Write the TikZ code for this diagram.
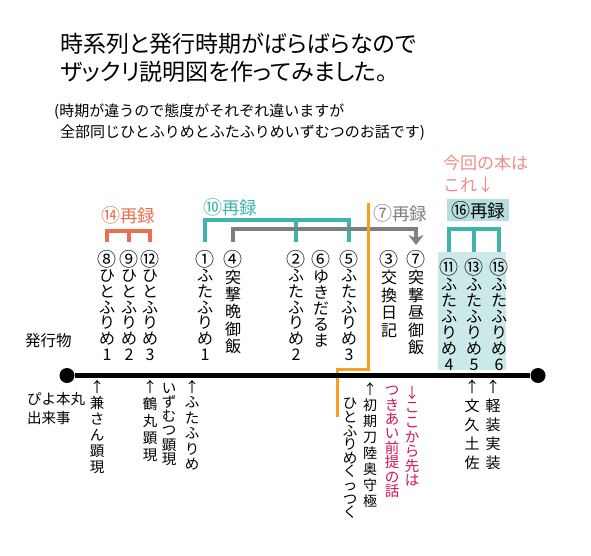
\documentclass[tikz,border=0pt]{standalone}
\usepackage{fontspec}
\setmainfont{Noto Sans CJK JP}
\newfontfamily\propfont[RawFeature={+palt}]{Noto Sans CJK JP}
\usetikzlibrary{arrows.meta, calc}

\definecolor{recred}{HTML}{E8704E}
\definecolor{recteal}{HTML}{3DB5AC}
\definecolor{recgray}{HTML}{7F7F7F}
\definecolor{lineorange}{HTML}{F5A11F}
\definecolor{boxlabel}{HTML}{B5DFDE}
\definecolor{boxcols}{HTML}{CCE9E9}
\definecolor{notepink}{HTML}{F08C8C}
\definecolor{notered}{HTML}{D4145A}

% Bigger circled numbers
\newcommand{\cnum}[1]{{\fontsize{19}{19}\selectfont #1}}

\begin{document}
\begin{tikzpicture}[x=1pt, y=-1pt,
    % Define the style for the book columns above the timeline
    ucol/.style={anchor=north, align=center, inner sep=0pt, outer ysep=8pt,
        font=\fontsize{16}{#1}\selectfont},
    ucol/.default=15.7,
    % Define the style for the event columns below the timeline
    lcol/.style={anchor=north, align=center, inner sep=0pt,
        font=\fontsize{14.5}{#1}\selectfont},
    lcol/.default=15.5,
    % Define the style for the re-release labels and their combs
    reclabel/.style={inner sep=1pt, font=\fontsize{17.5}{20}\selectfont},
    comb/.style={line width=4pt, line join=miter},
    dot/.style={circle, fill=black, inner sep=0pt, minimum size=15pt}
]

% Fix the page size
\fill[white] (0,0) rectangle (591,556);
\useasboundingbox (0,0) rectangle (591,556);

% Title and note
\node[anchor=west, inner sep=0pt, font=\propfont\fontsize{23}{28}\selectfont] (title1) at (60,44) {時系列と発行時期がばらばらなので};
\node[anchor=west, inner sep=0pt, font=\propfont\fontsize{23}{28}\selectfont] (title2) at (60,72) {ザックリ説明図を作ってみました。};
\node[anchor=west, inner sep=0pt, font=\fontsize{15}{18}\selectfont] (sub1) at (54,112) {(時期が違うので態度がそれぞれ違いますが};
\node[anchor=west, inner sep=0pt, font=\fontsize{15}{18}\selectfont] (sub2) at (60,133) {全部同じひとふりめとふたふりめいずむつのお話です)};

% This book
\node[anchor=west, inner sep=0pt, text=notepink, font=\fontsize{17}{20}\selectfont] (now1) at (443,163) {今回の本は};
\node[anchor=west, inner sep=0pt, text=notepink, font=\fontsize{17}{20}\selectfont] (now2) at (443,185) {これ↓};

% Re-release labels
\node[reclabel, text=recred] (r14) at (128,215) {\cnum{⑭}再録};
\node[reclabel, text=recteal] (r10) at (230,207) {\cnum{⑩}再録};
\node[reclabel, text=recgray] (r7) at (400,213) {\cnum{⑦}再録};
\node[reclabel, fill=boxlabel, inner xsep=4pt, inner ysep=2pt] (r16) at (478,210) {\cnum{⑯}再録};

% Heights of the comb bars
\coordinate (bar14) at (0,231);
\coordinate (bar10) at (0,220);
\coordinate (bar7) at (0,229);
\coordinate (bar16) at (0,229);

% Box behind this book
\fill[boxcols] (438,252) rectangle (506,370);

% Books
\node[ucol] (c8) at (107,242) {\cnum{⑧}\\ひ\\と\\ふ\\り\\め\\1};
\node[ucol] (c9) at (129,242) {\cnum{⑨}\\ひ\\と\\ふ\\り\\め\\2};
\node[ucol] (c12) at (150,242) {\cnum{⑫}\\ひ\\と\\ふ\\り\\め\\3};
\node[ucol] (c1) at (205,242) {\cnum{①}\\ふ\\た\\ふ\\り\\め\\1};
\node[ucol=17.3] (c4) at (233,242) {\cnum{④}\\突\\撃\\晩\\御\\飯};
\node[ucol] (c2) at (296,242) {\cnum{②}\\ふ\\た\\ふ\\り\\め\\2};
\node[ucol=16] (c6) at (321,242) {\cnum{⑥}\\ゆ\\き\\だ\\る\\ま};
\node[ucol] (c5) at (349,242) {\cnum{⑤}\\ふ\\た\\ふ\\り\\め\\3};
\node[ucol=17.5] (c3) at (389,242) {\cnum{③}\\交\\換\\日\\記};
\node[ucol=17.5] (c7) at (416,242) {\cnum{⑦}\\突\\撃\\昼\\御\\飯};
\node[ucol=16, outer ysep=6pt] (c11) at (449,252) {\cnum{⑪}\\ふ\\た\\ふ\\り\\め\\4};
\node[ucol=16, outer ysep=6pt] (c13) at (474,252) {\cnum{⑬}\\ふ\\た\\ふ\\り\\め\\5};
\node[ucol=16, outer ysep=6pt] (c15) at (499,252) {\cnum{⑮}\\ふ\\た\\ふ\\り\\め\\6};

% Combs
\draw[comb, recred] (c8.north) -- (c8.north |- bar14) -- (c12.north |- bar14) -- (c12.north);
\draw[comb, recred] (c9.north) -- (c9.north |- bar14);
\draw[comb, recteal] (c1.north) -- (c1.north |- bar10) -- (c5.north |- bar10) -- (c5.north);
\draw[comb, recteal] (c2.north) -- (c2.north |- bar10);
\draw[comb, recgray, -{Stealth[length=10pt, width=15pt]}, shorten >=-3pt] (c4.north) -- (c4.north |- bar7) -- (c7.north |- bar7) -- (c7.north);
\draw[comb, recteal] (c11.north) -- (c11.north |- bar16) -- (c15.north |- bar16) -- (c15.north);
\draw[comb, recteal] (c13.north) -- (c13.north |- bar16);

% Orange border line
\coordinate (o1) at (368,203);
\coordinate (o2) at (368,369);
\coordinate (o3) at (337,369);
\coordinate (o4) at (337,417);
\draw[line width=3pt, lineorange] (o1) -- (o2) -- (o3) -- (o4);

% Timeline
\node[dot] (start) at (67,375.5) {};
\node[dot] (end) at (538,375.5) {};
\draw[line width=4.5pt] (start) -- (end);

% Row labels
\node[anchor=west, inner sep=0pt, font=\fontsize{15.5}{18}\selectfont] (pub) at (25,341) {発行物};
\node[anchor=north west, align=left, inner sep=0pt, font=\fontsize{14.5}{19}\selectfont] (evt) at (27,392) {ぴよ本丸\\出来事};

% Events
\node[lcol=16] (e1) at (97,380) {↑\\兼\\さ\\ん\\顕\\現};
\node[lcol=17] (e2) at (150,380) {↑\\鶴\\丸\\顕\\現};
\node[lcol=14.2] (e3b) at (169,383) {い\\ず\\む\\つ\\顕\\現};
\node[lcol=15.4] (e3a) at (192,380) {↑\\ふ\\た\\ふ\\り\\め};
\node[lcol, font=\fontsize{14}{16}\selectfont] (e4a) at (370,382) {↑\\初\\期\\刀\\陸\\奥\\守\\極};
\node[lcol=13.6] (e4b) at (350,398) {ひ\\と\\ふ\\り\\め\\く\\っ\\つ\\く};
\node[lcol=14.6, text=notered] (e5a) at (412,386) {↓\\こ\\こ\\か\\ら\\先\\は};
\node[lcol=14.4, text=notered] (e5b) at (392,386) {つ\\き\\あ\\い\\前\\提\\の\\話};
\node[lcol, font=\fontsize{15}{19}\selectfont] (e6) at (472,380) {↑\\文\\久\\土\\佐};
\node[lcol, font=\fontsize{15}{19}\selectfont] (e7) at (493,380) {↑\\軽\\装\\実\\装};

\end{tikzpicture}
\end{document}
